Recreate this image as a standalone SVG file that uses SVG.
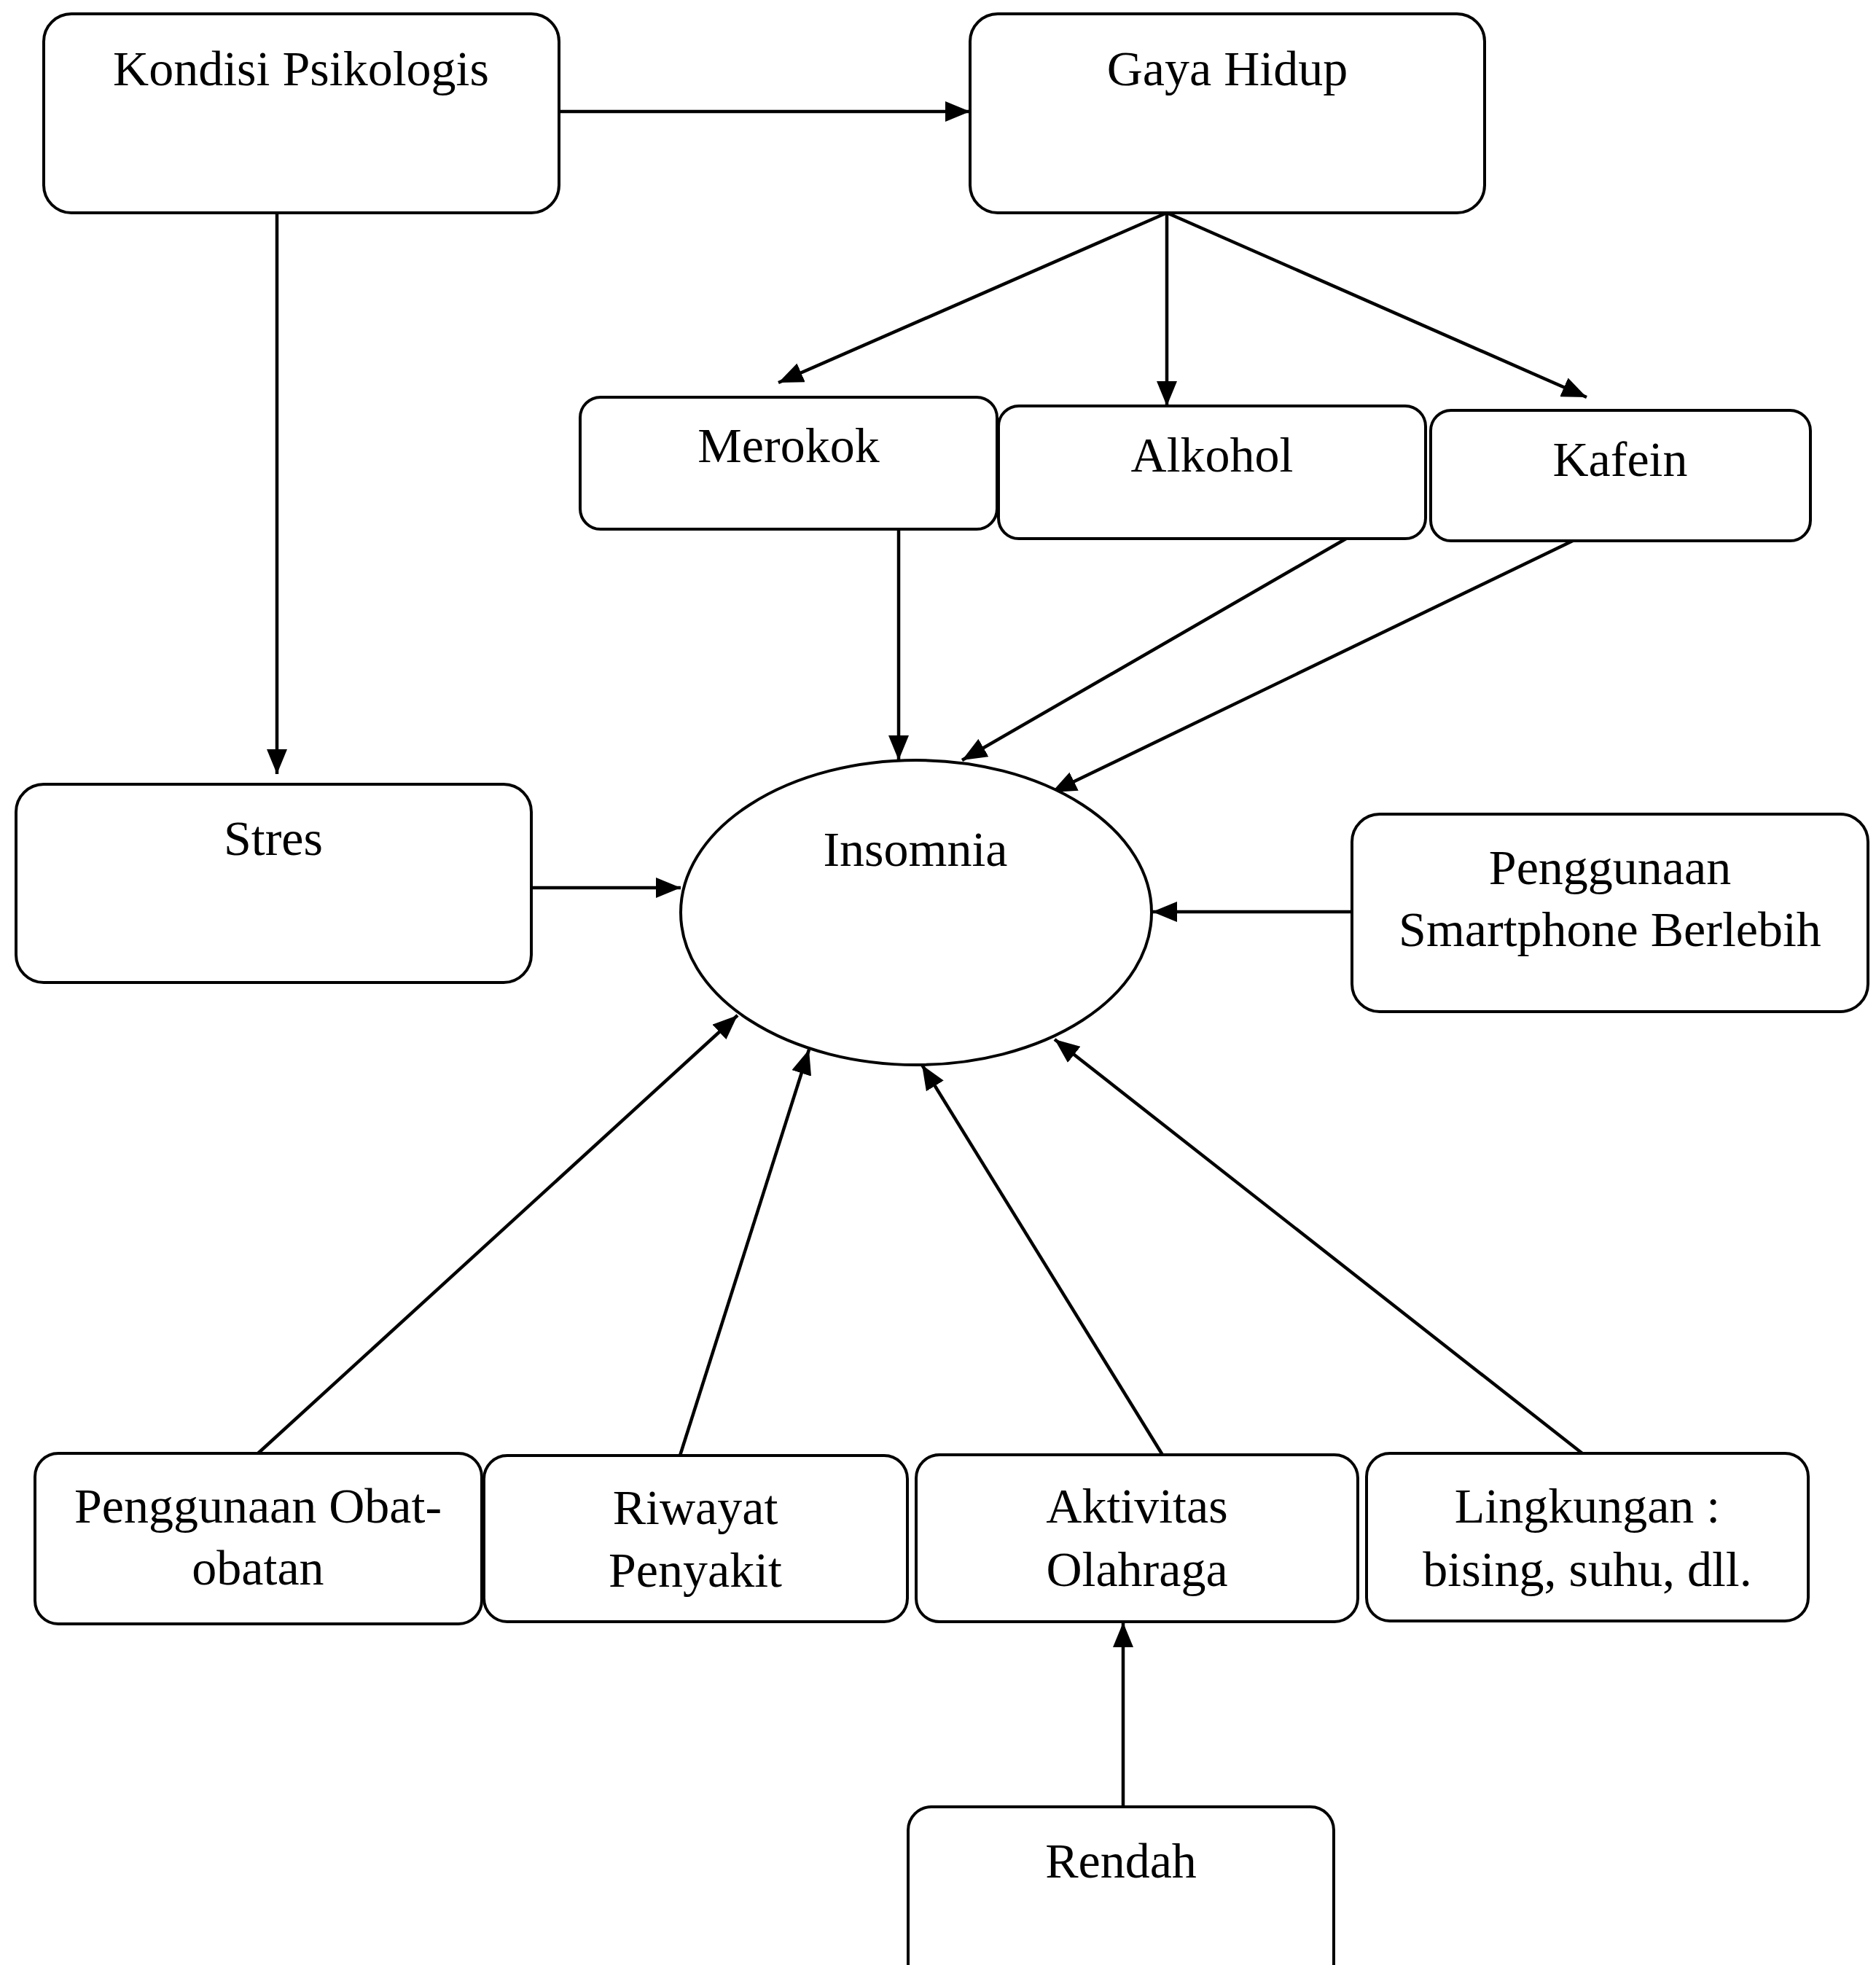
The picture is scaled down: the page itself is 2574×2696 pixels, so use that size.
<svg xmlns="http://www.w3.org/2000/svg" width="2574" height="2696" viewBox="0 0 2574 2696">
<style>
.box{fill:#fff;stroke:#000;stroke-width:4}
.t{font-family:"Liberation Serif","Times New Roman",serif;font-size:68px;fill:#000;text-anchor:middle}
.c{stroke:#000;stroke-width:4.5;fill:none;marker-end:url(#ah)}
</style>
<defs>
<marker id="ah" markerUnits="userSpaceOnUse" markerWidth="34" markerHeight="28" refX="34" refY="14" orient="auto">
<path d="M0,0 L34,14 L0,28 z" fill="#000"/>
</marker>
</defs>
<rect width="2574" height="2696" fill="#fff"/>
<g id="connectors">
<line class="c" x1="767" y1="153" x2="1331" y2="153"/>
<line class="c" x1="380" y1="292" x2="380" y2="1062"/>
<line class="c" x1="1601" y1="292" x2="1068" y2="525"/>
<line class="c" x1="1601" y1="292" x2="1601" y2="557"/>
<line class="c" x1="1601" y1="292" x2="2177" y2="545"/>
<line class="c" x1="1233" y1="726" x2="1233" y2="1043"/>
<line class="c" x1="1847" y1="739" x2="1320" y2="1043"/>
<line class="c" x1="2160" y1="741" x2="1443" y2="1087"/>
<line class="c" x1="729" y1="1218" x2="934" y2="1218"/>
<line class="c" x1="1855" y1="1251" x2="1581" y2="1251"/>
<line class="c" x1="354" y1="1994" x2="1012" y2="1393"/>
<line class="c" x1="933" y1="1997" x2="1110" y2="1440"/>
<line class="c" x1="1595" y1="1996" x2="1265" y2="1461"/>
<line class="c" x1="2171" y1="1994" x2="1447" y2="1426"/>
<line class="c" x1="1541" y1="2479" x2="1541" y2="2226"/>
</g>
<g id="kondisi"><rect class="box" x="60" y="19" width="707" height="273" rx="38"/><text class="t" x="413" y="117">Kondisi Psikologis</text></g>
<g id="gaya"><rect class="box" x="1331" y="19" width="706" height="273" rx="38"/><text class="t" x="1684" y="117">Gaya Hidup</text></g>
<g id="merokok"><rect class="box" x="796" y="545" width="572" height="181" rx="28"/><text class="t" x="1082" y="634">Merokok</text></g>
<g id="alkohol"><rect class="box" x="1370" y="557" width="586" height="182" rx="28"/><text class="t" x="1663" y="647">Alkohol</text></g>
<g id="kafein"><rect class="box" x="1963" y="563" width="521" height="179" rx="28"/><text class="t" x="2223" y="653">Kafein</text></g>
<g id="stres"><rect class="box" x="22" y="1076" width="707" height="272" rx="38"/><text class="t" x="375" y="1173">Stres</text></g>
<g id="insomnia"><ellipse class="box" cx="1257" cy="1252" rx="323" ry="209"/><text class="t" x="1256" y="1188">Insomnia</text></g>
<g id="smartphone"><rect class="box" x="1855" y="1117" width="708" height="271" rx="38"/><text class="t" x="2209" y="1213">Penggunaan</text><text class="t" x="2209" y="1298">Smartphone Berlebih</text></g>
<g id="obat"><rect class="box" x="48" y="1994" width="613" height="234" rx="32"/><text class="t" x="354" y="2089">Penggunaan Obat-</text><text class="t" x="354" y="2174">obatan</text></g>
<g id="riwayat"><rect class="box" x="664" y="1997" width="581" height="228" rx="32"/><text class="t" x="954" y="2091">Riwayat</text><text class="t" x="954" y="2177">Penyakit</text></g>
<g id="aktivitas"><rect class="box" x="1257" y="1996" width="606" height="229" rx="32"/><text class="t" x="1560" y="2089">Aktivitas</text><text class="t" x="1560" y="2176">Olahraga</text></g>
<g id="lingkungan"><rect class="box" x="1875" y="1994" width="606" height="230" rx="32"/><text class="t" x="2178" y="2089">Lingkungan :</text><text class="t" x="2178" y="2176">bising, suhu, dll.</text></g>
<g id="rendah"><rect class="box" x="1246" y="2479" width="584" height="260" rx="32"/><text class="t" x="1538" y="2576">Rendah</text></g>
</svg>
